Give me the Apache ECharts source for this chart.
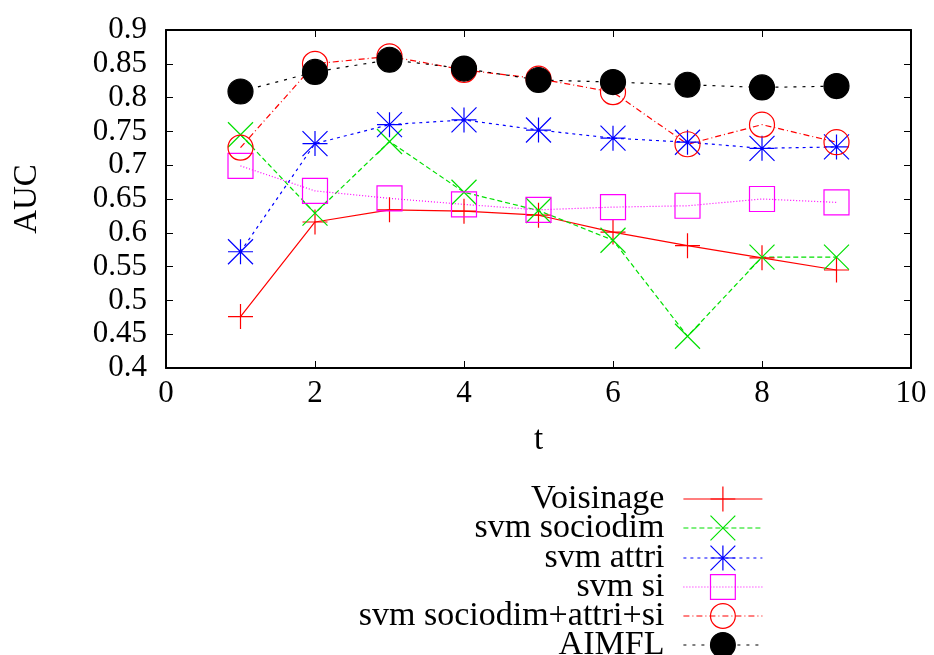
<!DOCTYPE html>
<html>
<head>
<meta charset="utf-8">
<script src="https://cdn.jsdelivr.net/npm/echarts@6/dist/echarts.min.js"></script>
<style>html,body{margin:0;padding:0;background:#fff}#c{width:934px;height:655px}</style>
</head>
<body>
<div id="c"></div>
<script>
const tValues = [1, 2, 3, 4, 5, 6, 7, 8, 9];
const seriesNames = ['Voisinage', 'svm sociodim', 'svm attri', 'svm si', 'svm sociodim+attri+si', 'AIMFL'];
const voisinage = [0.476, 0.616, 0.634, 0.632, 0.626, 0.601, 0.581, 0.563, 0.545];
const svmSociodim = [0.745, 0.629, 0.735, 0.660, 0.633, 0.589, 0.447, 0.564, 0.564];
const svmAttri = [0.572, 0.732, 0.760, 0.767, 0.752, 0.740, 0.734, 0.725, 0.727];
const svmSi = [0.699, 0.662, 0.651, 0.642, 0.634, 0.638, 0.640, 0.650, 0.645];
const svmAll = [0.726, 0.850, 0.861, 0.841, 0.828, 0.808, 0.731, 0.760, 0.734];
const aimfl = [0.809, 0.838, 0.856, 0.843, 0.826, 0.823, 0.819, 0.815, 0.817];
const xTicks = [0, 2, 4, 6, 8, 10];
const yTicks = [0.4, 0.45, 0.5, 0.55, 0.6, 0.65, 0.7, 0.75, 0.8, 0.85, 0.9];

const FONT = 'Liberation Serif';
const pair = arr => tValues.map((t, i) => [t, arr[i]]);

const styles = [
  {data: voisinage, color: '#ff0000', dash: 'solid', symbol: 'path://M0,10L20,10M10,0L10,20', fill: 'transparent'},
  {data: svmSociodim, color: '#00e000', dash: [5, 3], symbol: 'path://M0,0L20,20M20,0L0,20', fill: 'transparent'},
  {data: svmAttri, color: '#0000ff', dash: [3, 4], symbol: 'path://M0,0L20,20M20,0L0,20M0,10L20,10M10,0L10,20', fill: 'transparent'},
  {data: svmSi, color: '#ff00ff', dash: [1, 2], symbol: 'rect', fill: 'transparent'},
  {data: svmAll, color: '#ff0000', dash: [6, 3, 1, 3], symbol: 'circle', fill: 'transparent'},
  {data: aimfl, color: '#000000', dash: [3, 6], symbol: 'circle', fill: '#000000'}
];

const series = styles.map((s, i) => ({
  name: seriesNames[i],
  type: 'line',
  xAxisIndex: 0,
  yAxisIndex: 0,
  data: pair(s.data),
  symbol: s.symbol,
  symbolSize: 25,
  showAllSymbol: true,
  animation: false,
  lineStyle: {color: s.color, width: 1.2, type: s.dash},
  itemStyle: {color: s.fill, borderColor: s.color, borderWidth: 1.2},
  emphasis: {disabled: true}
}));

const legendCenters = [497, 526, 556, 585, 614, 643];
const legends = seriesNames.map((n, i) => ({
  data: [n],
  orient: 'vertical',
  align: 'right',
  right: 171,
  top: legendCenters[i] - 15,
  padding: 0,
  itemWidth: 79,
  itemHeight: 31,
  selectedMode: false,
  textStyle: {fontFamily: FONT, fontSize: 34, color: '#000', padding: [0, 14, 5, 0]},
  lineStyle: {width: 1.2, color: styles[i].color, type: styles[i].dash},
  itemStyle: {borderWidth: 1.2, borderColor: styles[i].color, color: styles[i].fill}
}));

const option = {
  backgroundColor: '#fff',
  animation: false,
  grid: {left: 166, right: 23, top: 30, bottom: 287, outerBoundsMode: 'none', containLabel: false},
  legend: legends,
  xAxis: [
    {
      type: 'value', position: 'bottom', min: xTicks[0], max: xTicks[xTicks.length - 1], interval: 2,
      name: 't', nameLocation: 'middle', nameGap: 56,
      nameTextStyle: {fontFamily: FONT, fontSize: 33, color: '#000'},
      axisLine: {show: true, onZero: false, lineStyle: {color: '#000', width: 2}},
      axisTick: {show: true, inside: true, length: 7, lineStyle: {color: '#000', width: 1}},
      axisLabel: {fontFamily: FONT, fontSize: 31, color: '#000', margin: 10},
      splitLine: {show: false}
    },
    {
      type: 'value', position: 'top', min: xTicks[0], max: xTicks[xTicks.length - 1], interval: 2,
      axisLine: {show: true, onZero: false, lineStyle: {color: '#000', width: 2}},
      axisTick: {show: true, inside: true, length: 7, lineStyle: {color: '#000', width: 1}},
      axisLabel: {show: false},
      splitLine: {show: false}
    }
  ],
  yAxis: [
    {
      type: 'value', position: 'left', min: yTicks[0], max: yTicks[yTicks.length - 1], interval: 0.05,
      name: 'AUC', nameLocation: 'middle', nameGap: 122, nameRotate: 90,
      nameTextStyle: {fontFamily: FONT, fontSize: 33, color: '#000'},
      axisLine: {show: true, onZero: false, lineStyle: {color: '#000', width: 2}},
      axisTick: {show: true, inside: true, length: 7, lineStyle: {color: '#000', width: 1}},
      axisLabel: {fontFamily: FONT, fontSize: 31, color: '#000', margin: 19,
        formatter: v => String(Math.round(v * 100) / 100)},
      splitLine: {show: false}
    },
    {
      type: 'value', position: 'right', min: yTicks[0], max: yTicks[yTicks.length - 1], interval: 0.05,
      axisLine: {show: true, onZero: false, lineStyle: {color: '#000', width: 2}},
      axisTick: {show: true, inside: true, length: 7, lineStyle: {color: '#000', width: 1}},
      axisLabel: {show: false},
      splitLine: {show: false}
    }
  ],
  series: series
};

const chart = echarts.init(document.getElementById('c'), null, {renderer: 'canvas'});
chart.setOption(option);
</script>
</body>
</html>
